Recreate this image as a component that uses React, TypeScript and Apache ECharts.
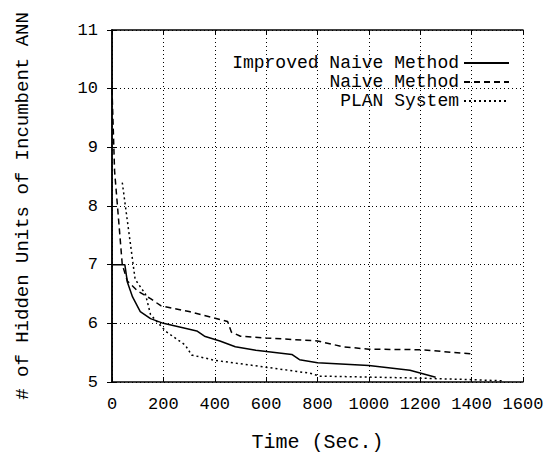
import React, { useEffect, useRef } from "react";
import * as echarts from "echarts";

const xTicks = [0, 200, 400, 600, 800, 1000, 1200, 1400, 1600];
const yTicks = [5, 6, 7, 8, 9, 10, 11];

const seriesNames = ["Improved Naive Method", "Naive Method", "PLAN System"];

const improvedNaive: [number, number][] = [
  [0, 7], [50, 7], [60, 6.7], [80, 6.45], [110, 6.2], [150, 6.08], [200, 6.0],
  [280, 5.92], [330, 5.87], [360, 5.78], [420, 5.7], [480, 5.6], [560, 5.54],
  [700, 5.47], [730, 5.38], [800, 5.33], [1000, 5.28], [1160, 5.2], [1260, 5.08],
];

const naiveMethod: [number, number][] = [
  [0, 10], [10, 8.6], [40, 7.0], [60, 6.72], [100, 6.55], [150, 6.42], [190, 6.3],
  [300, 6.2], [390, 6.1], [450, 6.03], [465, 5.85], [500, 5.78], [600, 5.75],
  [800, 5.7], [900, 5.6], [1000, 5.56], [1200, 5.55], [1400, 5.48],
];

const planSystem: [number, number][] = [
  [40, 8.4], [90, 6.75], [130, 6.5], [150, 6.15], [210, 5.86], [285, 5.63],
  [310, 5.46], [400, 5.37], [570, 5.27], [770, 5.15], [810, 5.1], [1160, 5.07],
  [1400, 5.04], [1520, 5.02],
];

const FONT = "'Liberation Mono', 'DejaVu Sans Mono', monospace";

export default function App() {
  const ref = useRef<HTMLDivElement>(null);
  useEffect(() => {
    document.body.style.margin = "0";
    if (!ref.current) return;
    const chart = echarts.init(ref.current, null, { renderer: "svg" });
    const lineStyles: any[] = [
      { color: "#000", width: 1.5, type: "solid" },
      { color: "#000", width: 1.5, type: [6, 4] },
      { color: "#000", width: 1.5, type: [2, 3] },
    ];
    const datas = [improvedNaive, naiveMethod, planSystem];
    const legendTops = [54, 73, 92];
    chart.setOption({
      animation: false,
      backgroundColor: "#fff",
      grid: { left: 112, right: 24, top: 30, bottom: 73 },
      legend: seriesNames.map((n, i) => ({
        data: [n],
        right: 37,
        top: legendTops[i],
        padding: 0,
        align: "right",
        itemWidth: 45,
        itemHeight: 14,
        itemGap: 0,
        itemStyle: { opacity: 0 },
        textStyle: { fontFamily: FONT, fontSize: 18, color: "#000", lineHeight: 18 },
        selectedMode: false,
      })),
      xAxis: [
        {
          type: "value",
          min: xTicks[0],
          max: xTicks[xTicks.length - 1],
          interval: 200,
          name: "Time (Sec.)",
          nameLocation: "middle",
          nameGap: 50,
          nameTextStyle: { fontFamily: FONT, fontSize: 20, color: "#000" },
          axisLine: { show: true, onZero: false, lineStyle: { color: "#000", width: 1.5 } },
          axisTick: { show: true, inside: true, length: 5, lineStyle: { color: "#000" } },
          axisLabel: {
            fontFamily: FONT,
            fontSize: 17,
            color: "#000",
            margin: 14,
            showMaxLabel: true,
            showMinLabel: true,
            hideOverlap: false,
            formatter: (v: number) => String(v),
          },
          splitLine: { show: true, lineStyle: { color: "#000", type: [1, 3], width: 1 } },
        },
        {
          type: "value",
          position: "top",
          min: xTicks[0],
          max: xTicks[xTicks.length - 1],
          interval: 200,
          axisLine: { show: true, lineStyle: { color: "#000", width: 1.5 } },
          axisTick: { show: true, inside: true, length: 5, lineStyle: { color: "#000" } },
          axisLabel: { show: false },
          splitLine: { show: false },
        },
      ],
      yAxis: [
        {
          type: "value",
          min: yTicks[0],
          max: yTicks[yTicks.length - 1],
          interval: 1,
          name: "# of Hidden Units of Incumbent ANN",
          nameLocation: "middle",
          nameGap: 80,
          nameTextStyle: { fontFamily: FONT, fontSize: 19, color: "#000" },
          axisLine: { show: true, onZero: false, lineStyle: { color: "#000", width: 1.5 } },
          axisTick: { show: true, inside: true, length: 5, lineStyle: { color: "#000" } },
          axisLabel: { fontFamily: FONT, fontSize: 17, color: "#000", margin: 14 },
          splitLine: { show: true, lineStyle: { color: "#000", type: [1, 3], width: 1 } },
        },
        {
          type: "value",
          position: "right",
          min: yTicks[0],
          max: yTicks[yTicks.length - 1],
          interval: 1,
          axisLine: { show: true, lineStyle: { color: "#000", width: 1.5 } },
          axisTick: { show: true, inside: true, length: 5, lineStyle: { color: "#000" } },
          axisLabel: { show: false },
          splitLine: { show: false },
        },
      ],
      series: seriesNames.map((n, i) => ({
        name: n,
        type: "line",
        data: datas[i],
        symbol: "none",
        showSymbol: false,
        color: "#000",
        lineStyle: lineStyles[i],
      })),
    });
    return () => chart.dispose();
  }, []);
  return <div ref={ref} style={{ width: 547, height: 457 }} />;
}
